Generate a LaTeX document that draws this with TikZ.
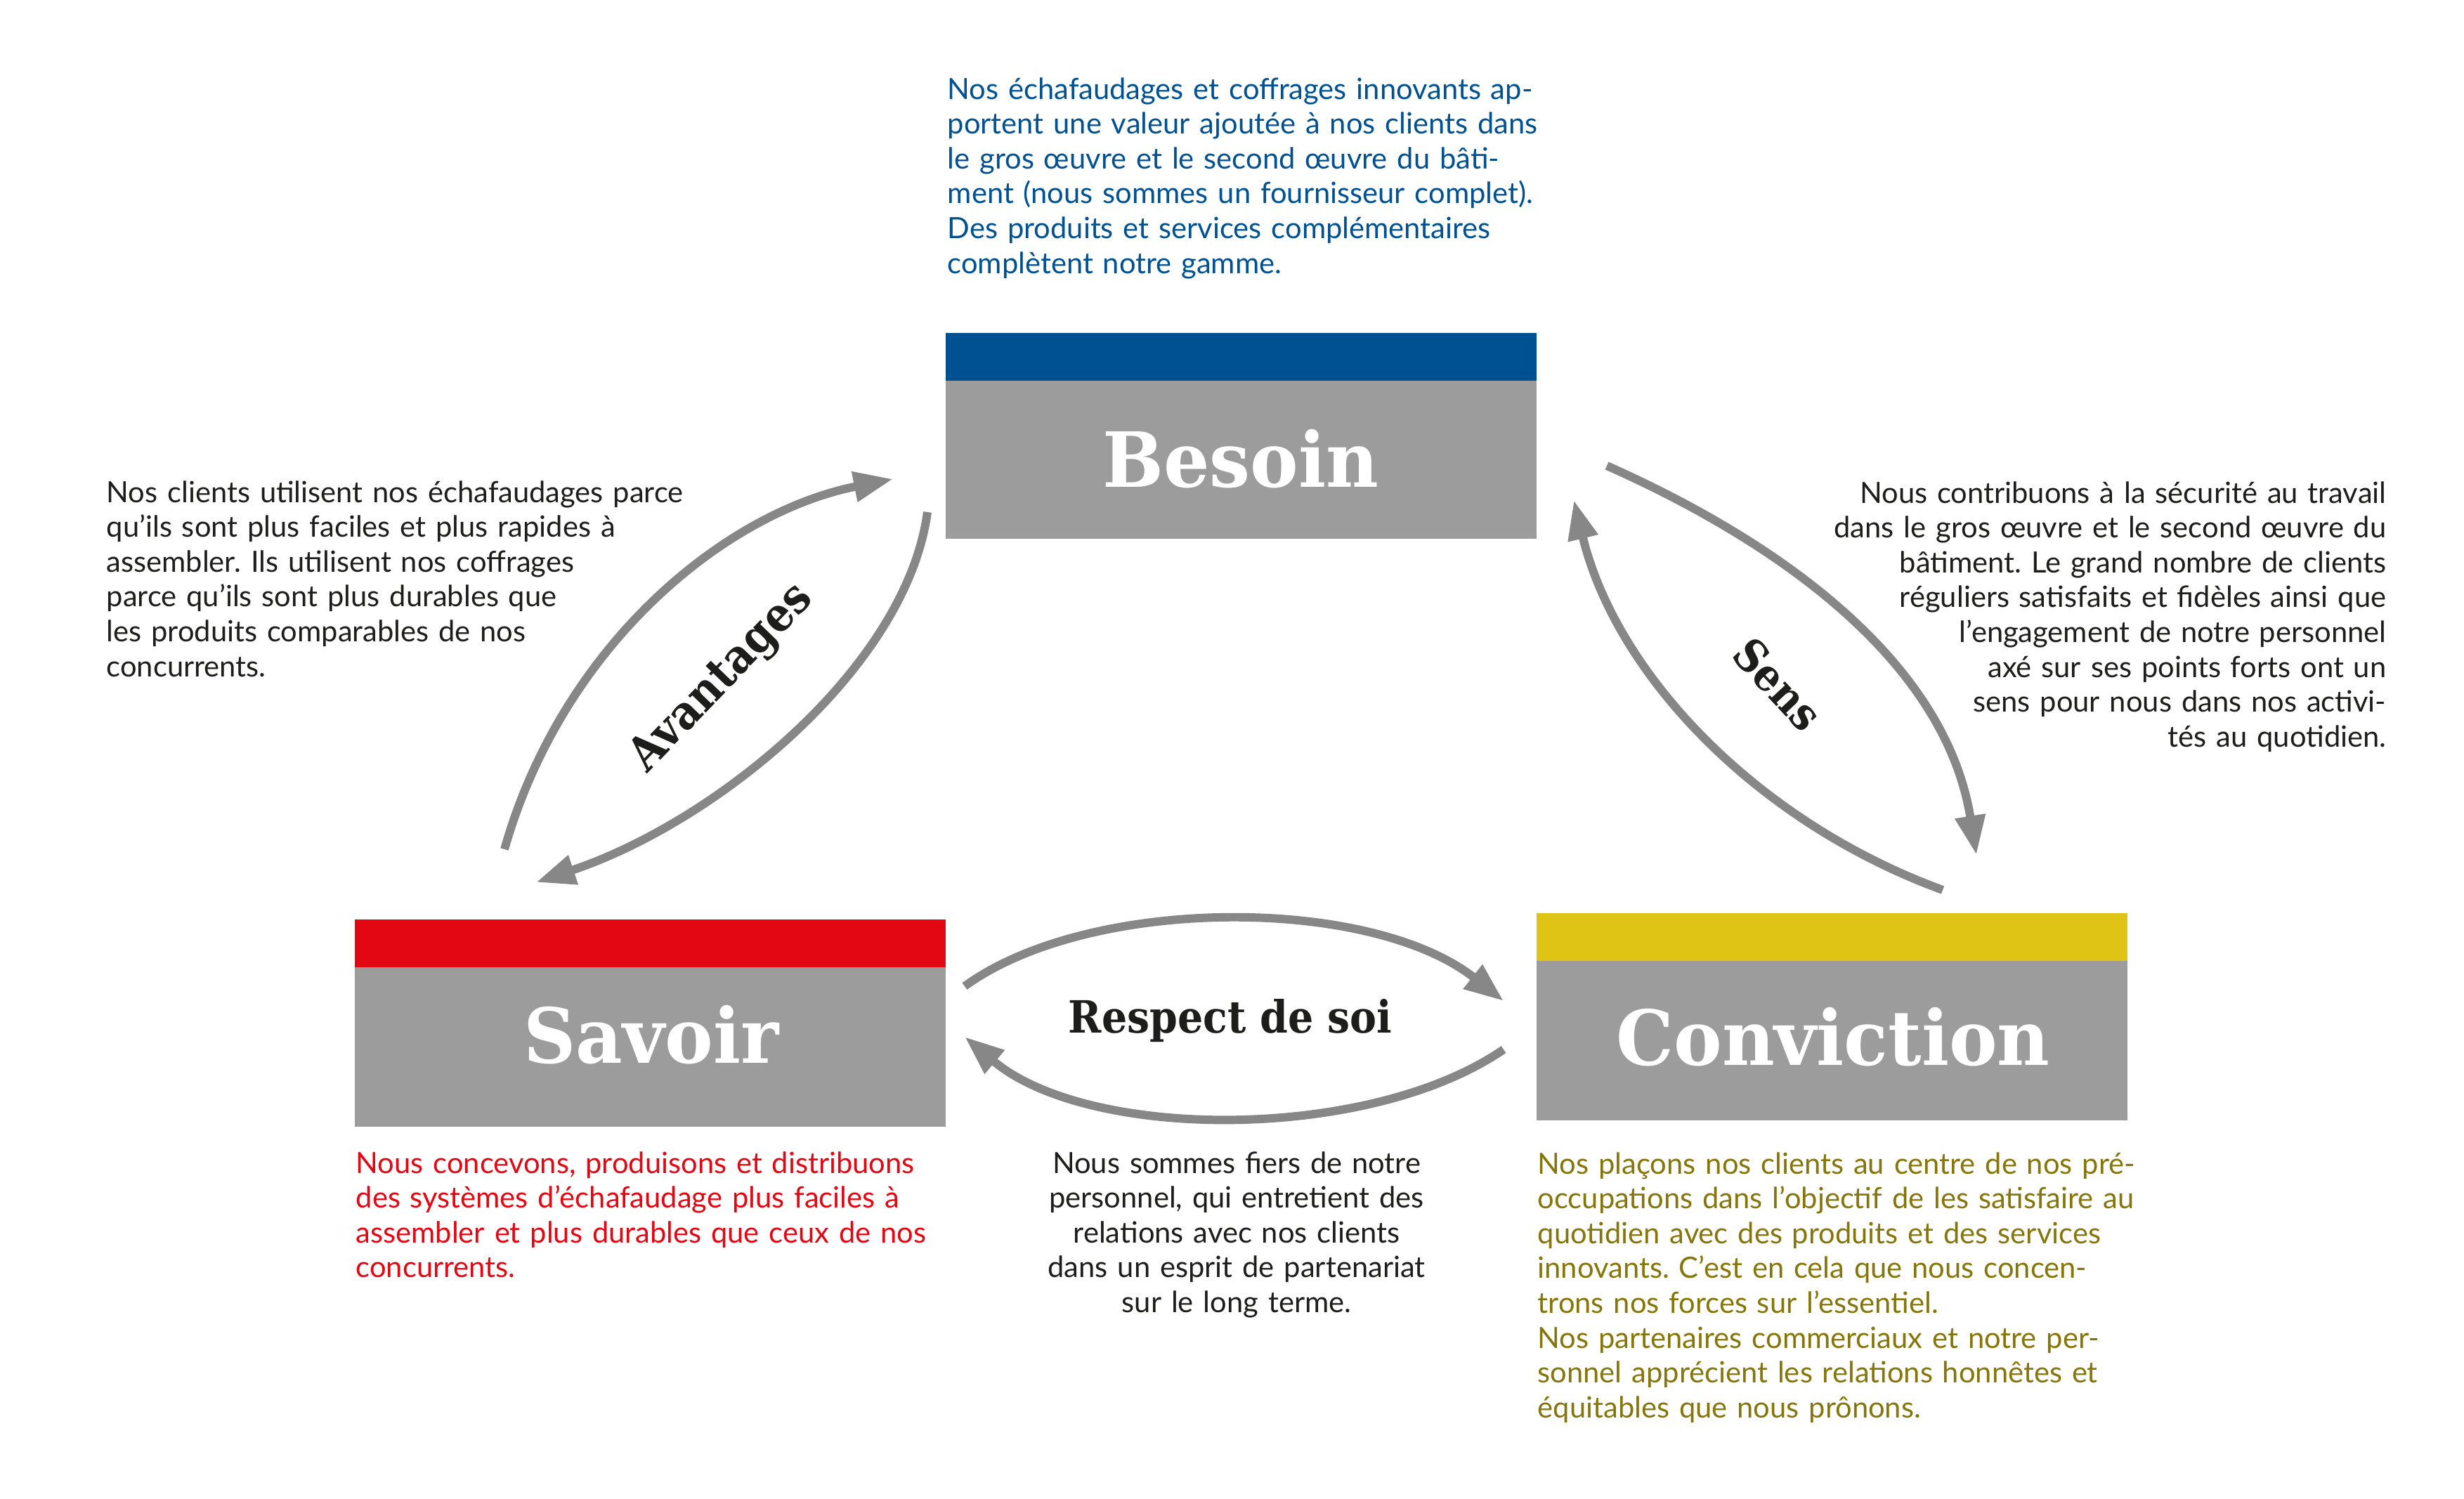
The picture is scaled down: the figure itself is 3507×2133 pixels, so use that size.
\documentclass[tikz,border=0pt]{standalone}
\usepackage{fontspec}
\setmainfont{Lato}
\newfontfamily\slabfont{DejaVu Serif}[FakeStretch=0.95]
\newfontfamily\labelfont{DejaVu Serif}[FakeStretch=0.9]
\usepackage{xcolor}
\usetikzlibrary{arrows, arrows.meta}
\frenchspacing

\definecolor{besoinblue}{HTML}{005192}
\definecolor{savoirred}{HTML}{E30613}
\definecolor{convyellow}{HTML}{E0C415}
\definecolor{convolive}{HTML}{86760A}
\definecolor{boxgray}{HTML}{9C9C9C}
\definecolor{arrowgray}{HTML}{878787}
\definecolor{textblack}{HTML}{1D1D1B}

\tikzset{
  bodytext/.style={inner sep=0pt, text width=9cm, font=\fontsize{11.85}{14.11}\selectfont},
  boxtitle/.style={inner sep=0pt, anchor=base, text=white, font=\slabfont\bfseries\fontsize{30.8}{36}\selectfont},
  looplabel/.style={inner sep=0pt, text=textblack, font=\labelfont\bfseries\fontsize{18}{22}\selectfont},
  bigarrow/.style={draw=arrowgray, line width=3.4pt, -{Triangle[length=15.9pt, width=11.7pt]}}
}

\begin{document}
\begin{tikzpicture}[x=0.01cm, y=-0.01cm]
\useasboundingbox (0,0) rectangle (3507,2133);

% boxes
\fill[besoinblue] (1346,474) rectangle (2187,542);
\fill[boxgray] (1346,542) rectangle (2187,767);
\fill[savoirred] (505,1309) rectangle (1346,1377);
\fill[boxgray] (505,1377) rectangle (1346,1604);
\fill[convyellow] (2187,1300) rectangle (3028,1368);
\fill[boxgray] (2187,1368) rectangle (3028,1595);

\node[boxtitle] (besoin) at (1766,693) {Besoin};
\node[boxtitle] (savoir) at (927,1513) {Savoir};
\node[boxtitle] (conviction) at (2609,1516) {Conviction};

% texts
\node[bodytext, anchor=base west, text=besoinblue, align=left] (besointext) at (1348,141)
  {Nos échafaudages et coffrages innovants ap-\\
   portent une valeur ajoutée à nos clients dans\\
   le gros œuvre et le second œuvre du bâti-\\
   ment (nous sommes un fournisseur complet).\\
   Des produits et services complémentaires\\
   complètent notre gamme.};
\node[bodytext, anchor=base west, text=textblack, align=left] (avantagestext) at (151,715)
  {Nos clients utilisent nos échafaudages parce\\
   qu’ils sont plus faciles et plus rapides à\\
   assembler. Ils utilisent nos coffrages\\
   parce qu’ils sont plus durables que\\
   les produits comparables de nos\\
   concurrents.};
\node[bodytext, anchor=base east, text=textblack, align=right] (senstext) at (3397,716)
  {Nous contribuons à la sécurité au travail\\
   dans le gros œuvre et le second œuvre du\\
   bâtiment. Le grand nombre de clients\\
   réguliers satisfaits et fidèles ainsi que\\
   l’engagement de notre personnel\\
   axé sur ses points forts ont un\\
   sens pour nous dans nos activi-\\
   tés au quotidien.};
\node[bodytext, anchor=base west, text=savoirred, align=left] (savoirtext) at (506,1670)
  {Nous concevons, produisons et distribuons\\
   des systèmes d’échafaudage plus faciles à\\
   assembler et plus durables que ceux de nos\\
   concurrents.};
\node[bodytext, anchor=base, text=textblack, align=center] (respecttext) at (1760,1670)
  {Nous sommes fiers de notre\\
   personnel, qui entretient des\\
   relations avec nos clients\\
   dans un esprit de partenariat\\
   sur le long terme.};
\node[bodytext, anchor=base west, text=convolive, align=left] (convictiontext) at (2188,1671)
  {Nos plaçons nos clients au centre de nos pré-\\
   occupations dans l’objectif de les satisfaire au\\
   quotidien avec des produits et des services\\
   innovants. C’est en cela que nous concen-\\
   trons nos forces sur l’essentiel.\\
   Nos partenaires commerciaux et notre per-\\
   sonnel apprécient les relations honnêtes et\\
   équitables que nous prônons.};

% arrow ends
\coordinate (av1) at (718,1209);  \coordinate (av2) at (1271,682);
\coordinate (av3) at (1320,729);  \coordinate (av4) at (763,1256);
\coordinate (se1) at (2287,663);  \coordinate (se2) at (2813,1217);
\coordinate (se3) at (2765,1267); \coordinate (se4) at (2240,712);
\coordinate (re1) at (1373,1404); \coordinate (re2) at (2140,1425);
\coordinate (re3) at (2140,1494); \coordinate (re4) at (1373,1476);

\draw[bigarrow] (av1) .. controls (800,920) and (1030,730) .. (av2);
\draw[bigarrow] (av3) .. controls (1290,950) and (1020,1170) .. (av4);
\draw[bigarrow] (se1) .. controls (2550,780) and (2770,950) .. (se2);
\draw[bigarrow] (se3) .. controls (2500,1170) and (2300,960) .. (se4);
\draw[bigarrow] (re1) .. controls (1550,1275) and (1950,1275) .. (re2);
\draw[bigarrow] (re3) .. controls (1950,1625) and (1550,1625) .. (re4);

\node[looplabel, rotate=46, font=\labelfont\bfseries\fontsize{19}{22}\selectfont] (avantages) at (1028,966) {Avantages};
\node[looplabel, rotate=-47] (sens) at (2531,974) {Sens};
\node[looplabel, anchor=base] (respect) at (1751,1470) {Respect de soi};
\end{tikzpicture}
\end{document}
